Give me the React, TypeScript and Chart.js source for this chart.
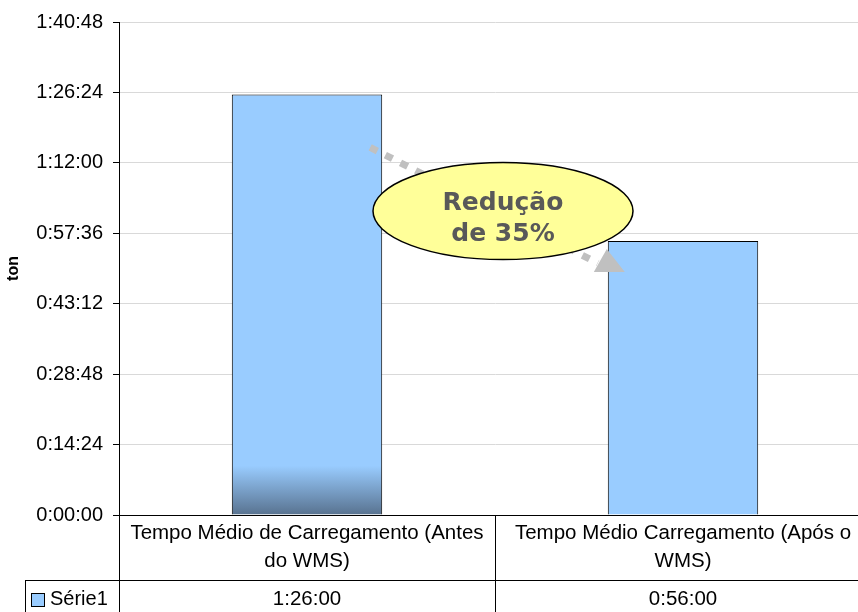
import React, { useEffect, useRef } from "react";
import { Chart, registerables } from "chart.js";

Chart.register(...registerables);

const categories = [
  "Tempo Médio de Carregamento (Antes do WMS)",
  "Tempo Médio Carregamento (Após o WMS)",
];
const seriesName = "Série1";
const seriesSeconds = [5160, 3360]; // 1:26:00 and 0:56:00
const yMin = 0;
const yMax = 6048; // 1:40:48
const yStep = 864; // 0:14:24
const yTitle = "ton";
const calloutLines = ["Redução", "de 35%"];

const FONT = '"Liberation Sans", Arial, sans-serif';
const BAR_COLOR = "#99CCFF";

function pad2(n: number) {
  return n < 10 ? "0" + n : String(n);
}
function fmtTime(sec: number) {
  const h = Math.floor(sec / 3600);
  const m = Math.floor((sec % 3600) / 60);
  const s = Math.round(sec % 60);
  return `${h}:${pad2(m)}:${pad2(s)}`;
}

function wrapText(ctx: CanvasRenderingContext2D, text: string, maxW: number) {
  const words = text.split(" ");
  const lines: string[] = [];
  let cur = "";
  for (const w of words) {
    const test = cur ? cur + " " + w : w;
    if (ctx.measureText(test).width > maxW && cur) {
      lines.push(cur);
      cur = w;
    } else {
      cur = test;
    }
  }
  if (cur) lines.push(cur);
  return lines;
}

const tablePlugin = {
  id: "dataTable",
  afterDraw(chart: any) {
    const { ctx, chartArea, scales } = chart;
    const xs = scales.x;
    const top = Math.round(chartArea.bottom);
    const H = chart.height;
    const W = chart.width;
    const row1H = 65;
    const rowY = top + row1H;
    const n = categories.length;
    const catW = (chartArea.right - chartArea.left) / n;
    const legendLeft = 25;

    ctx.save();
    ctx.strokeStyle = "#000";
    ctx.lineWidth = 1;
    ctx.beginPath();
    // horizontal separator between rows
    ctx.moveTo(legendLeft, rowY + 0.5);
    ctx.lineTo(chartArea.right, rowY + 0.5);
    // vertical cell borders
    for (let i = 0; i <= n; i++) {
      const bx = Math.round(chartArea.left + i * catW) + 0.5;
      ctx.moveTo(bx, top);
      ctx.lineTo(bx, H);
    }
    // legend cell left border
    ctx.moveTo(legendLeft + 0.5, rowY);
    ctx.lineTo(legendLeft + 0.5, H);
    ctx.stroke();

    ctx.fillStyle = "#000";
    ctx.font = `20.5px ${FONT}`;
    ctx.textAlign = "center";
    ctx.textBaseline = "middle";
    const lh = 28;
    categories.forEach((c, i) => {
      const cx = xs.getPixelForValue(i);
      const lines = wrapText(ctx, c, catW - 4);
      const y0 = top + row1H / 2 - ((lines.length - 1) * lh) / 2;
      lines.forEach((ln, k) => ctx.fillText(ln, cx, y0 + k * lh));
    });
    seriesSeconds.forEach((v, i) => {
      const cx = xs.getPixelForValue(i);
      ctx.fillText(fmtTime(v), cx, rowY + 19);
    });

    // legend key
    ctx.fillStyle = BAR_COLOR;
    ctx.fillRect(31, rowY + 13, 13, 13);
    ctx.strokeRect(31.5, rowY + 13.5, 13, 13);
    ctx.fillStyle = "#000";
    ctx.textAlign = "left";
    ctx.font = `20px ${FONT}`;
    ctx.fillText(seriesName, 50, rowY + 19);
    ctx.restore();
  },
};

const calloutPlugin = {
  id: "callout",
  afterDatasetsDraw(chart: any) {
    const { ctx } = chart;
    const meta = chart.getDatasetMeta(0);
    const b1 = meta.data[0];
    const b2 = meta.data[1];
    if (!b1 || !b2) return;
    const b1Right = b1.x + b1.width / 2;
    const b2Left = b2.x - b2.width / 2;

    ctx.save();
    // dotted arrow
    const sx = b1Right - 12;
    const sy = b1.y + 53;
    const ex = b2Left - 10;
    const ey = b2.y + 22;
    ctx.strokeStyle = "#C0C0C0";
    ctx.lineWidth = 7;
    ctx.setLineDash([8, 9]);
    ctx.beginPath();
    ctx.moveTo(sx, sy);
    ctx.lineTo(ex, ey);
    ctx.stroke();
    ctx.setLineDash([]);
    // arrow head
    ctx.fillStyle = "#C0C0C0";
    ctx.beginPath();
    ctx.moveTo(b2Left - 1, b2.y + 8);
    ctx.lineTo(b2Left - 14, b2.y + 31);
    ctx.lineTo(b2Left + 17, b2.y + 31);
    ctx.closePath();
    ctx.fill();

    // ellipse
    const cx = (b1Right + b2Left) / 2 + 8;
    const cy = b2.y - 30;
    ctx.beginPath();
    ctx.ellipse(cx, cy, 130, 48.5, 0, 0, Math.PI * 2);
    ctx.fillStyle = "#FFFF99";
    ctx.fill();
    ctx.strokeStyle = "#000";
    ctx.lineWidth = 1.5;
    ctx.stroke();

    ctx.fillStyle = "#595959";
    ctx.font = 'bold 25px "DejaVu Sans", Verdana, sans-serif';
    ctx.textAlign = "center";
    ctx.textBaseline = "middle";
    ctx.fillText(calloutLines[0], cx, cy - 8);
    ctx.fillText(calloutLines[1], cx, cy + 23);
    ctx.restore();
  },
};

export default function App() {
  const ref = useRef<HTMLCanvasElement | null>(null);

  useEffect(() => {
    if (!ref.current) return;
    const chart = new Chart(ref.current, {
      type: "bar",
      data: {
        labels: categories,
        datasets: [
          {
            label: seriesName,
            data: seriesSeconds,
            backgroundColor: (c: any) => {
              const ch = c.chart;
              const area = ch.chartArea;
              if (c.dataIndex !== 0 || !area) return BAR_COLOR;
              const g = ch.ctx.createLinearGradient(0, area.bottom, 0, area.top);
              g.addColorStop(0, "#58728F");
              g.addColorStop(0.1, BAR_COLOR);
              g.addColorStop(1, BAR_COLOR);
              return g;
            },
            borderColor: "#000",
            borderWidth: 1,
            barPercentage: 0.4,
            categoryPercentage: 1,
          },
        ],
      },
      options: {
        responsive: false,
        animation: false,
        layout: { padding: { top: 20, right: 29, left: 0, bottom: 0 } },
        plugins: {
          legend: { display: false },
          tooltip: { enabled: false },
        },
        scales: {
          x: {
            type: "category",
            offset: true,
            grid: { display: false },
            border: { display: true, color: "#000", width: 1 },
            ticks: { display: false },
            afterFit: (s: any) => {
              s.height = 97;
            },
          },
          y: {
            min: yMin,
            max: yMax,
            grid: {
              color: "#D9D9D9",
              tickColor: "#000",
              tickLength: 6,
              lineWidth: 1,
            },
            border: { color: "#000", width: 1 },
            ticks: {
              stepSize: yStep,
              padding: 10,
              color: "#000",
              font: { family: FONT, size: 20 },
              callback: (v: any) => fmtTime(Number(v)),
            },
            title: {
              display: true,
              text: yTitle,
              color: "#000",
              font: { family: FONT, size: 16, weight: "bold" },
              padding: { top: 4, bottom: 0 },
            },
            afterFit: (s: any) => {
              s.width = 119;
            },
          },
        },
      },
      plugins: [calloutPlugin, tablePlugin],
    } as any);
    return () => chart.destroy();
  }, []);

  return (
    <div
      style={{
        position: "fixed",
        left: 0,
        top: 0,
        width: 858,
        height: 612,
        overflow: "hidden",
        background: "#fff",
      }}
    >
      <canvas
        ref={ref}
        width={900}
        height={612}
        style={{ display: "block", width: 900, height: 612 }}
      />
    </div>
  );
}
